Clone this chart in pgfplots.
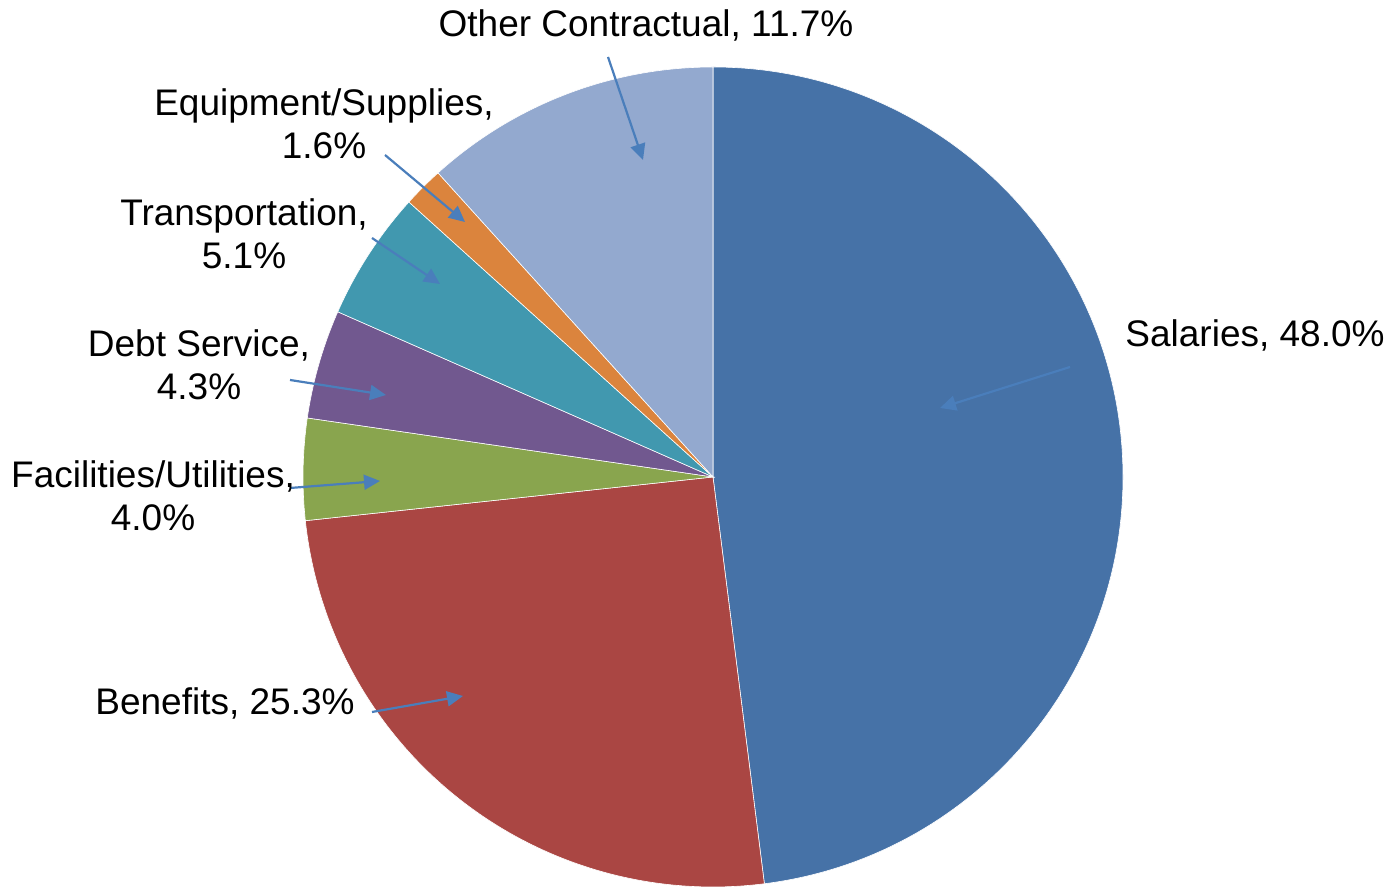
\documentclass[border=0pt]{standalone}
\usepackage{pgfplots}
\pgfplotsset{compat=1.18}
\usepackage{pgfplotstable}
\usepackage{fontspec}
\setmainfont{Liberation Sans}
\usetikzlibrary{arrows.meta}
\definecolor{slice0}{RGB}{70,114,167}
\definecolor{slice1}{RGB}{170,70,67}
\definecolor{slice2}{RGB}{137,165,78}
\definecolor{slice3}{RGB}{113,88,143}
\definecolor{slice4}{RGB}{65,152,175}
\definecolor{slice5}{RGB}{219,132,61}
\definecolor{slice6}{RGB}{147,169,207}
\definecolor{leader}{RGB}{74,126,187}

\pgfplotstableread[col sep=comma]{
label,value
Salaries,48.0
Benefits,25.3
Facilities/Utilities,4.0
Debt Service,4.3
Transportation,5.1
Equipment/Supplies,1.6
Other Contractual,11.7
}\pietable

% cumulative angles, clockwise from the top
\xdef\cum{90}
\foreach \k in {0,...,6}{%
  \pgfplotstablegetelem{\k}{value}\of\pietable
  \pgfmathsetmacro\endA{\cum-3.6*\pgfplotsretval}%
  \pgfmathsetmacro\sx{410*cos(\cum)}%
  \pgfmathsetmacro\sy{410*sin(\cum)}%
  \expandafter\xdef\csname sA\k\endcsname{\cum}%
  \expandafter\xdef\csname eA\k\endcsname{\endA}%
  \expandafter\xdef\csname sX\k\endcsname{\sx}%
  \expandafter\xdef\csname sY\k\endcsname{\sy}%
  \xdef\cum{\endA}%
}

\begin{document}
\begin{tikzpicture}
\begin{axis}[
  name=ax,
  scale only axis,
  width=696pt, height=443.5pt,
  xmin=-713, xmax=679, ymin=-410, ymax=477,
  hide axis, clip=false,
]
\pgfplotsinvokeforeach{0,...,6}{
  \fill[slice#1, draw=white, line width=0.3pt]
    (axis cs:0,0) -- (axis cs:\csname sX#1\endcsname,\csname sY#1\endcsname)
    arc[start angle=\csname sA#1\endcsname, end angle=\csname eA#1\endcsname, radius=205pt] -- cycle;
}
% leader lines (pixel positions converted: x-713, 477-y)
\tikzset{lead/.style={leader, line width=1.1pt, -{Triangle[length=8pt,width=7.5pt]}}}
\draw[lead] (axis cs:357,110) -- (axis cs:227,69);
\draw[lead] (axis cs:-341,-235) -- (axis cs:-250,-219);
\draw[lead] (axis cs:-423,-11) -- (axis cs:-333,-4);
\draw[lead] (axis cs:-423,97) -- (axis cs:-327,82);
\draw[lead] (axis cs:-341,239) -- (axis cs:-273,193);
\draw[lead] (axis cs:-328,322) -- (axis cs:-248,255);
\draw[lead] (axis cs:-105,420) -- (axis cs:-70,317);
% labels
\tikzset{lab/.style={font=\fontsize{18.5}{21.3}\selectfont, align=center, inner sep=0pt, text=black}}
\node[lab] at (axis cs:-67,452) {Other Contractual, 11.7\%};
\node[lab] at (axis cs:-389,353) {Equipment/Supplies,\\1.6\%};
\node[lab] at (axis cs:-469,243) {Transportation,\\5.1\%};
\node[lab] at (axis cs:-514,112) {Debt Service,\\4.3\%};
\node[lab] at (axis cs:-560,-19) {Facilities/Utilities,\\4.0\%};
\node[lab] at (axis cs:-488,-226) {Benefits, 25.3\%};
\node[lab] at (axis cs:542,142) {Salaries, 48.0\%};
\end{axis}
\pgfresetboundingbox
\path (ax.south west) rectangle (ax.north east);
\end{tikzpicture}
\end{document}
